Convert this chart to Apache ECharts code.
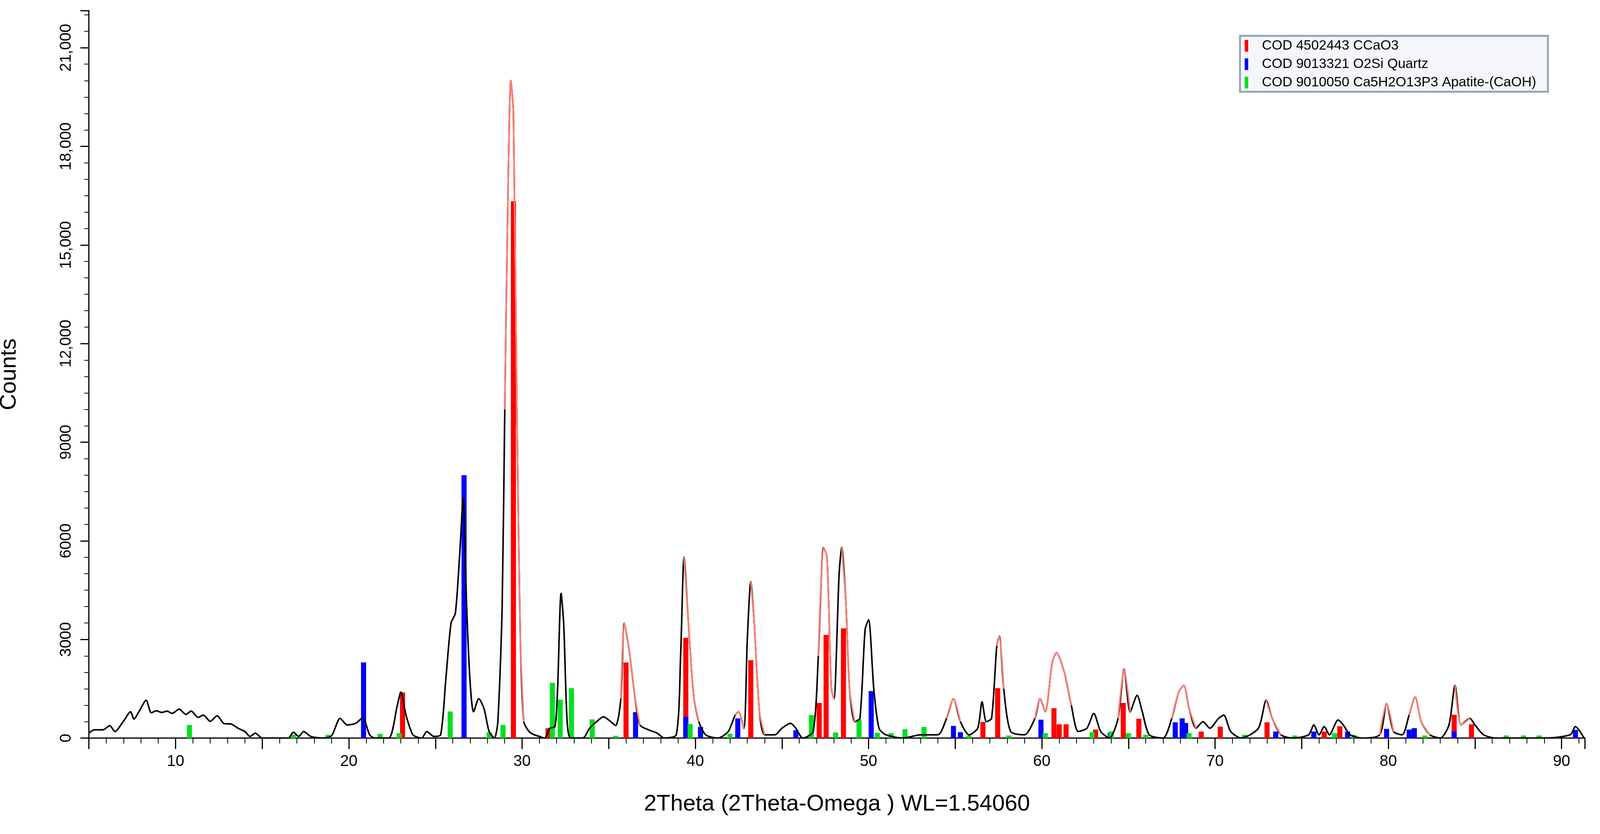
<!DOCTYPE html>
<html>
<head>
<meta charset="utf-8">
<script src="https://cdn.jsdelivr.net/npm/echarts@6/dist/echarts.min.js"></script>
<style>html,body{margin:0;background:#fff;overflow:hidden}#chart{width:100vw;height:100vh}</style>
</head>
<body>
<div id="chart"></div>
<script>
// measured profile, [2theta, counts]
var profile = [
  [5,150],[5.3,250],[5.8,250],[6.2,380],[6.5,200],[7,520],[7.4,800],[7.6,580],[7.9,820],[8.3,1150],[8.6,770],
  [8.9,830],[9.2,780],[9.5,820],[9.8,750],[10.2,880],[10.6,720],[10.9,820],[11.3,630],[11.6,700],[12,510],
  [12.4,680],[12.8,440],[13.2,430],[13.6,300],[14,200],[14.3,50],[14.6,150],[15,0],[16.5,0],[16.8,180],
  [17.1,50],[17.4,200],[17.8,50],[18.5,0],[19,70],[19.5,600],[19.9,400],[20.4,450],[20.8,620],[21.2,100],
  [21.5,0],[22.3,0],[22.8,1000],[23.0,1400],[23.3,700],[23.7,100],[24.2,0],[24.5,200],[24.9,50],[25.3,100],
  [25.6,1800],[25.9,3500],[26.15,3800],[26.4,5600],[26.6,7300],[26.8,4000],[27.0,1700],[27.2,800],[27.5,1200],
  [27.8,900],[28.1,200],[28.4,0],[28.6,500],[28.85,4000],[29.0,10000],[29.2,17000],[29.35,20000],[29.5,19000],
  [29.7,10000],[29.9,3000],[30.1,500],[30.4,200],[30.7,100],[31.0,50],[31.3,0],[31.6,300],[31.9,350],
  [32.05,1500],[32.25,4400],[32.4,3500],[32.6,500],[32.8,0],[33.5,0],[33.9,300],[34.3,500],[34.7,650],
  [35.0,550],[35.4,380],[35.7,1200],[35.9,3500],[36.2,2600],[36.5,1300],[36.8,400],[37.3,250],[37.8,150],
  [38.2,0],[38.9,100],[39.15,2500],[39.35,5500],[39.6,3500],[39.9,1300],[40.2,500],[40.6,100],[41.3,0],
  [41.9,200],[42.3,700],[42.5,800],[42.8,300],[43.0,3000],[43.2,4750],[43.4,3500],[43.7,800],[44.0,100],
  [44.6,100],[45.0,300],[45.5,450],[45.8,300],[46.2,0],[46.8,200],[47.1,2500],[47.4,5800],[47.6,5500],
  [47.85,1500],[48.0,1200],[48.3,5000],[48.45,5800],[48.7,4000],[48.9,1500],[49.2,500],[49.5,600],[49.8,3300],
  [50.0,3600],[50.3,1500],[50.6,300],[51,100],[52,0],[53,100],[54.0,100],[54.5,600],[54.9,1200],[55.3,500],
  [55.8,100],[56.3,300],[56.55,1100],[56.8,500],[57.1,600],[57.4,2800],[57.55,3100],[57.8,1500],[58.2,200],
  [59,100],[59.6,600],[59.9,1200],[60.2,800],[60.6,2300],[60.85,2600],[61.3,2000],[61.7,1000],[62.1,200],
  [62.6,300],[63.0,750],[63.4,200],[63.9,0],[64.4,600],[64.75,2100],[65.1,800],[65.5,1300],[65.8,800],
  [66.2,100],[67,0],[67.5,600],[67.9,1400],[68.2,1600],[68.5,900],[68.9,300],[69.3,500],[69.7,300],[70.2,600],
  [70.5,700],[70.9,200],[71.5,0],[72.5,300],[72.95,1150],[73.3,600],[73.8,100],[74.5,0],[75.4,100],[75.7,400],
  [76.0,100],[76.3,350],[76.6,100],[77.1,550],[77.4,400],[77.8,100],[78.5,0],[79.5,100],[79.9,1050],[80.3,200],
  [80.8,100],[81.2,700],[81.55,1250],[81.9,500],[82.4,100],[83,0],[83.5,400],[83.85,1600],[84.2,400],
  [84.7,600],[85.0,400],[85.5,100],[86.2,0],[87,0],[89,0],[90.5,100],[90.8,350],[91.3,0]
];
// 2theta ranges where the calcite fit is drawn over the profile
var fitRanges = [[29.0,30.1],[35.7,36.8],[39.35,40.2],[42.3,42.8],[43.2,44.0],[47.1,48.0],[48.45,49.2],
  [54.5,55.3],[57.4,57.8],[59.6,61.7],[64.4,65.1],[67.5,68.9],[72.95,73.8],[79.5,80.3],[81.2,82.4],[83.85,84.7]];

var calcite = [[23.1,1390],[29.5,16330],[31.5,300],[36.0,2300],[39.45,3050],[43.2,2370],[47.15,1070],
  [47.55,3140],[48.55,3340],[56.6,490],[57.45,1520],[60.7,910],[61.0,420],[61.4,420],[63.1,260],[64.7,1070],
  [65.6,590],[69.2,200],[70.3,350],[73.0,480],[76.3,200],[77.2,360],[81.5,300],[83.8,710],[84.8,420]];
var quartz = [[20.85,2300],[26.65,8000],[36.55,790],[39.45,650],[40.3,340],[42.45,600],[45.8,240],
  [50.15,1430],[54.9,370],[55.3,180],[59.95,560],[63.95,160],[67.7,480],[68.1,600],[68.3,460],[73.5,200],
  [75.7,200],[77.65,200],[79.9,280],[81.2,260],[81.5,300],[83.8,200],[90.8,250]];
var apatite = [[10.8,400],[16.8,100],[18.8,100],[21.8,130],[22.9,150],[25.85,810],[28.1,180],[28.9,400],
  [31.75,1680],[32.2,1170],[32.85,1520],[34.05,570],[35.4,70],[39.7,430],[42.0,130],[46.7,700],[48.1,170],
  [49.45,570],[50.5,160],[51.3,150],[52.1,270],[53.2,340],[55.8,80],[58.1,80],[60.2,150],[62.9,180],
  [64.0,200],[65.0,150],[66.0,100],[68.5,150],[71.7,100],[74.6,80],[76.9,150],[78.0,100],[82.1,80],
  [86.8,80],[87.8,80],[88.7,80]];

var fitLine = profile.map(function (p) {
    var inFit = fitRanges.some(function (r) { return p[0] >= r[0] && p[0] <= r[1]; });
    return inFit ? p : [p[0], null];
});

var chart = echarts.init(document.getElementById('chart'));
var font = 'Arial, "Liberation Sans", sans-serif';

function sticks(name, color, data) {
    return {
        name: name, type: 'bar', data: data, barWidth: 13, barGap: '-100%',
        itemStyle: {color: color}, z: 3, animation: false
    };
}

chart.setOption({
    backgroundColor: '#fff',
    animation: false,
    grid: {left: '5.56%', right: '0.94%', top: '1.27%', bottom: '11.5%', outerBoundsMode: 'none', containLabel: false},
    legend: {
        orient: 'vertical', left: '77.5%', top: '4.3%',
        data: ['COD 4502443 CCaO3', 'COD 9013321 O2Si Quartz', 'COD 9010050 Ca5H2O13P3 Apatite-(CaOH)'],
        icon: 'rect', itemWidth: 9, itemHeight: 30, itemGap: 12,
        padding: [8, 30, 6, 12],
        backgroundColor: '#f4f6f9', borderColor: '#93a5bd', borderWidth: 5,
        textStyle: {fontFamily: font, fontSize: 35, color: '#000', padding: [0, 0, 0, 30]}
    },
    xAxis: {
        type: 'value', min: 5, max: 91.35, interval: 5,
        name: '2Theta (2Theta-Omega ) WL=1.54060', nameLocation: 'middle', nameGap: 140,
        nameTextStyle: {fontFamily: font, fontSize: 58, color: '#000'},
        axisLine: {lineStyle: {color: '#000', width: 3}},
        axisTick: {length: 28, lineStyle: {color: '#000', width: 3}},
        minorTick: {show: true, splitNumber: 5, length: 14, lineStyle: {color: '#000', width: 2}},
        axisLabel: {
            fontFamily: font, fontSize: 40, color: '#000', margin: 40,
            formatter: function (v) { return v % 10 === 0 ? String(v) : ''; }
        },
        splitLine: {show: false}
    },
    yAxis: {
        type: 'value', min: 0, max: 22130, interval: 3000,
        name: 'Counts', nameLocation: 'middle', nameGap: 175,
        nameTextStyle: {fontFamily: font, fontSize: 58, color: '#000'},
        axisLine: {show: true, lineStyle: {color: '#000', width: 3}},
        axisTick: {show: true, length: 22, lineStyle: {color: '#000', width: 3}},
        minorTick: {show: true, splitNumber: 6, length: 12, lineStyle: {color: '#000', width: 2}},
        axisLabel: {
            fontFamily: font, fontSize: 40, color: '#000', rotate: 90, margin: 38,
            formatter: function (v) { return v >= 10000 ? v.toLocaleString('en-US') : String(v); }
        },
        splitLine: {show: false}
    },
    series: [
        sticks('COD 4502443 CCaO3', '#ff0000', calcite),
        sticks('COD 9013321 O2Si Quartz', '#0000ff', quartz),
        sticks('COD 9010050 Ca5H2O13P3 Apatite-(CaOH)', '#00e020', apatite),
        {
            type: 'line', data: profile, showSymbol: false, z: 4, smooth: 0.25,
            lineStyle: {color: '#000', width: 4}
        },
        {
            type: 'line', data: fitLine, showSymbol: false, z: 5, connectNulls: false, smooth: 0.25,
            lineStyle: {color: '#ff7f70', width: 4}
        }
    ]
});
</script>
</body>
</html>
